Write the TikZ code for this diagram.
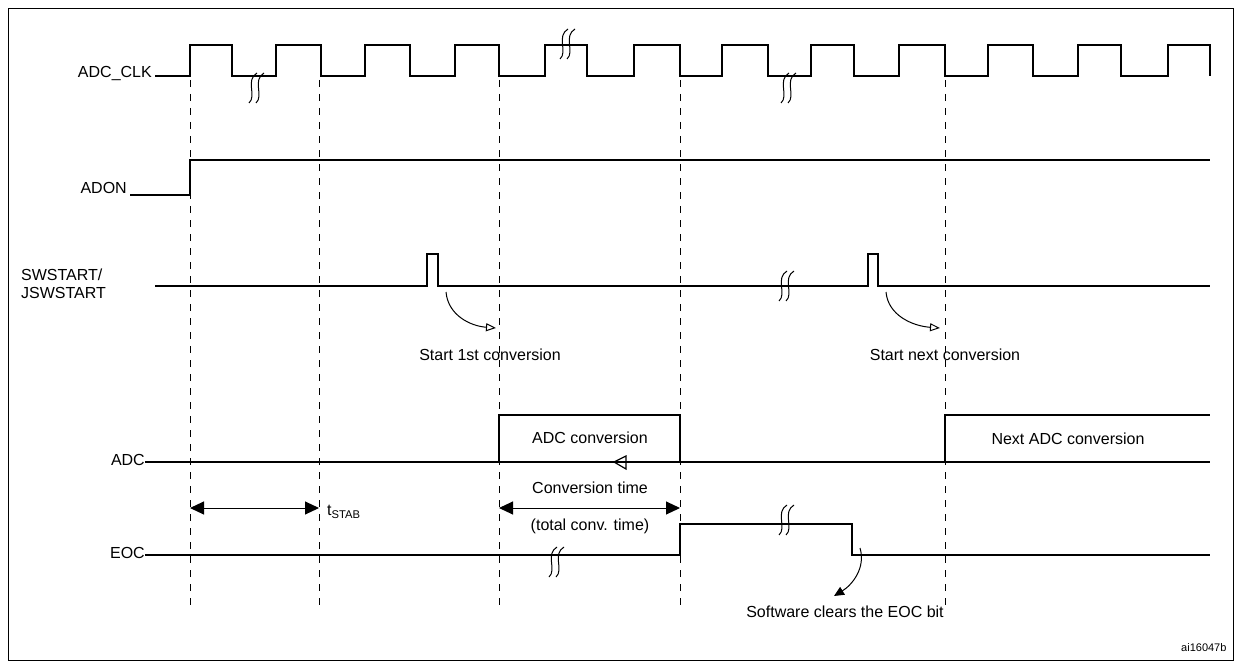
\documentclass[tikz,border=0pt]{standalone}
\usepackage{fontspec}
\setmainfont{Liberation Sans}
\usetikzlibrary{arrows.meta}
\begin{document}
\begin{tikzpicture}[x=1pt,y=-1pt,
  sig/.style={line width=1.8pt},
  vdash/.style={dash pattern=on 7pt off 7pt,line width=1pt},
  lbl/.style={font=\fontsize{16}{18}\selectfont,inner sep=1pt},
  brk/.pic={\draw[line width=1pt] (2,-15) .. controls (-10,-8) and (2,8) .. (-6,15) (9,-15) .. controls (-3,-8) and (9,8) .. (1,15);}]
\useasboundingbox (0,0) rectangle (1241,666);
\draw[line width=0.8pt] (8,8) rectangle (1233,660);
% dashed lines
\foreach \x in {190,319,499,680,945} \draw[vdash] (\x,80) -- (\x,612);
% clock
\draw[sig] (155,76) -- (190,76) -- (190,45) -- (232,45) -- (232,76) -- (276,76) -- (276,45) -- (321,45) -- (321,76)
 -- (365,76) -- (365,45) -- (410,45) -- (410,76) -- (455,76) -- (455,45) -- (499,45) -- (499,76)
 -- (545,76) -- (545,45) -- (587,45) -- (587,76) -- (634,76) -- (634,45) -- (680,45) -- (680,76)
 -- (722,76) -- (722,45) -- (768,45) -- (768,76) -- (811,76) -- (811,45) -- (854,45) -- (854,76)
 -- (899,76) -- (899,45) -- (945,45) -- (945,76) -- (988,76) -- (988,45) -- (1033,45) -- (1033,76)
 -- (1078,76) -- (1078,45) -- (1121,45) -- (1121,76) -- (1168,76) -- (1168,45) -- (1210,45) -- (1210,76);
\pic at (255,88) {brk};
\pic at (566,44) {brk};
\pic at (787,88) {brk};
\node[lbl,anchor=east] (clk) at (153,74) {ADC\_CLK};
% ADON
\draw[sig] (130,195) -- (190,195) -- (190,160) -- (1210,160);
\node[lbl,anchor=east] (adon) at (128,188) {ADON};
% SWSTART
\draw[sig] (155,286) -- (427,286) -- (427,254) -- (438,254) -- (438,286) -- (868,286) -- (868,254) -- (878,254) -- (878,286) -- (1210,286);
\pic at (785,286) {brk};
\node[lbl,anchor=west,align=left] (sw) at (20,284) {SWSTART/\\JSWSTART};
\coordinate (a1s) at (446,292); \coordinate (a1e) at (496,328);
\coordinate (a2s) at (886,292); \coordinate (a2e) at (940,328);
\draw[line width=1pt,-{Triangle[open,length=10pt,width=8pt]}] (a1s) .. controls (448,315) and (470,326) .. (a1e);
\draw[line width=1pt,-{Triangle[open,length=10pt,width=8pt]}] (a2s) .. controls (888,315) and (912,326) .. (a2e);
\node[lbl] (s1) at (490,355) {Start 1st conversion};
\node[lbl] (s2) at (945,355) {Start next conversion};
% ADC
\draw[sig] (145,462) -- (1210,462);
\draw[sig] (499,462) -- (499,415) -- (680,415) -- (680,462);
\draw[sig] (945,462) -- (945,415) -- (1210,415);
\node[lbl] (ac) at (590,438) {ADC conversion};
\node[lbl] (nac) at (1068,439) {Next ADC conversion};
\draw[line width=1.2pt] (614,462) -- (626,456) -- (626,469) -- cycle;
\node[lbl,anchor=east] (adc) at (146,460) {ADC};
% timing arrows
\coordinate (t1) at (190,508); \coordinate (t2) at (319,508);
\coordinate (c1) at (499,508); \coordinate (c2) at (680,508);
\draw[line width=1pt,{Triangle[length=14pt,width=13pt]}-{Triangle[length=14pt,width=13pt]}] (t1) -- (t2);
\draw[line width=1pt,{Triangle[length=14pt,width=13pt]}-{Triangle[length=14pt,width=13pt]}] (c1) -- (c2);
\node[lbl,anchor=west] (ts) at (326,512) {t\textsubscript{STAB}};
\node[lbl] (ct) at (590,488) {Conversion time};
\node[lbl] (tc) at (590,526) {(total conv. time)};
% EOC
\draw[sig] (145,555) -- (680,555) -- (680,524) -- (852,524) -- (852,555) -- (1210,555);
\pic at (555,562) {brk};
\pic at (785,520) {brk};
\node[lbl,anchor=east] (eoc) at (146,553) {EOC};
\coordinate (e1) at (860,548); \coordinate (e2) at (834,596);
\draw[line width=1pt,-{Triangle[length=10pt,width=9pt]}] (e1) .. controls (866,568) and (852,585) .. (e2);
\node[lbl] (sc) at (845,612) {Software clears the EOC bit};
\node[font=\fontsize{11}{12}\selectfont,anchor=east] (id) at (1230,648) {ai16047b};
\end{tikzpicture}
\end{document}
